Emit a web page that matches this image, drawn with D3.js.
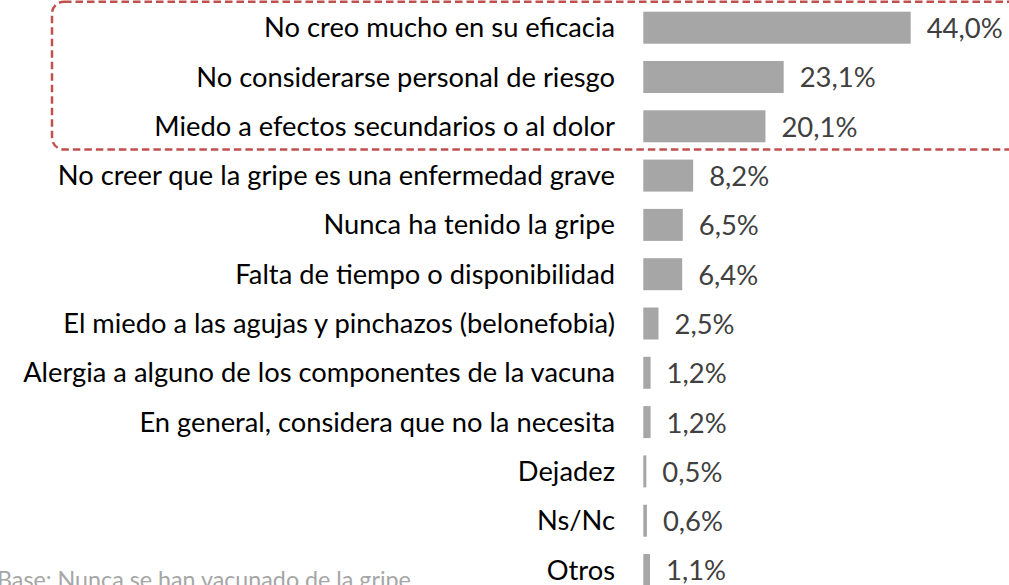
<!DOCTYPE html>
<html><head><meta charset="utf-8">
<script src="https://cdn.jsdelivr.net/npm/d3@7"></script>
<style>html,body{margin:0;padding:0;background:#fff;overflow:hidden}</style>
</head><body>
<svg id="c" width="1009" height="585"></svg>
<script>
const categories = [
  "No creo mucho en su eficacia",
  "No considerarse personal de riesgo",
  "Miedo a efectos secundarios o al dolor",
  "No creer que la gripe es una enfermedad grave",
  "Nunca ha tenido la gripe",
  "Falta de tiempo o disponibilidad",
  "El miedo a las agujas y pinchazos (belonefobia)",
  "Alergia a alguno de los componentes de la vacuna",
  "En general, considera que no la necesita",
  "Dejadez",
  "Ns/Nc",
  "Otros"
];
const values = [44.0, 23.1, 20.1, 8.2, 6.5, 6.4, 2.5, 1.2, 1.2, 0.5, 0.6, 1.1];
const valueLabels = ["44,0%","23,1%","20,1%","8,2%","6,5%","6,4%","2,5%","1,2%","1,2%","0,5%","0,6%","1,1%"];
const footnote = "Base: Nunca se han vacunado de la gripe";
const highlighted = categories.slice(0, 3);

const svg = d3.select("#c");
const FONT = "Lato, 'Open Sans', sans-serif";

const x = d3.scaleLinear().domain([0, 44]).range([643.3, 910.7]);
const y = d3.scalePoint().domain(categories).range([27.7, 570]);
const barH = 32;

// highlight box
const hy0 = y(highlighted[0]) - 26, hy1 = y(highlighted[highlighted.length-1]) + 23.3;
svg.append("rect")
  .attr("x", 52).attr("y", hy0).attr("width", 975).attr("height", hy1 - hy0)
  .attr("rx", 12).attr("ry", 12)
  .attr("fill", "none").attr("stroke", "#c0504d").attr("stroke-width", 2.5)
  .attr("stroke-dasharray", "7.5,4");

// bars
svg.append("g").selectAll("rect").data(values).join("rect")
  .attr("x", x(0))
  .attr("y", (d, i) => y(categories[i]) - barH / 2)
  .attr("width", d => x(d) - x(0))
  .attr("height", barH)
  .attr("fill", "#a6a6a6");

// category labels
const cat = svg.append("g").selectAll("text").data(categories).join("text")
  .attr("x", 615)
  .attr("y", d => y(d))
  .attr("dy", "0.35em")
  .attr("text-anchor", "end")
  .attr("font-family", FONT)
  .attr("font-size", 24)
  .attr("fill", "#000")
  .text(d => d);
// fit font size to the reference width of the longest label
let maxW = 0;
cat.each(function(){ maxW = Math.max(maxW, this.getComputedTextLength()); });
const catSize = 24 * 592 / maxW;
cat.attr("font-size", catSize);

// value labels
const val = svg.append("g").selectAll("text").data(values).join("text")
  .attr("x", d => x(d) + 16)
  .attr("y", (d, i) => y(categories[i]))
  .attr("dy", "0.38em")
  .attr("font-family", FONT)
  .attr("font-size", 24)
  .attr("fill", "#404040")
  .text((d, i) => valueLabels[i]);
const w0 = val.filter((d, i) => i === 0).node().getComputedTextLength();
val.attr("font-size", 24 * 76 / w0);

// footnote
const fn = svg.append("text")
  .attr("x", -3).attr("y", 588)
  .attr("font-family", FONT)
  .attr("font-size", 20)
  .attr("fill", "#a6a6a6")
  .text(footnote);
const fw = fn.node().getComputedTextLength();
fn.attr("font-size", 20 * 414 / fw);
</script>
</body></html>
